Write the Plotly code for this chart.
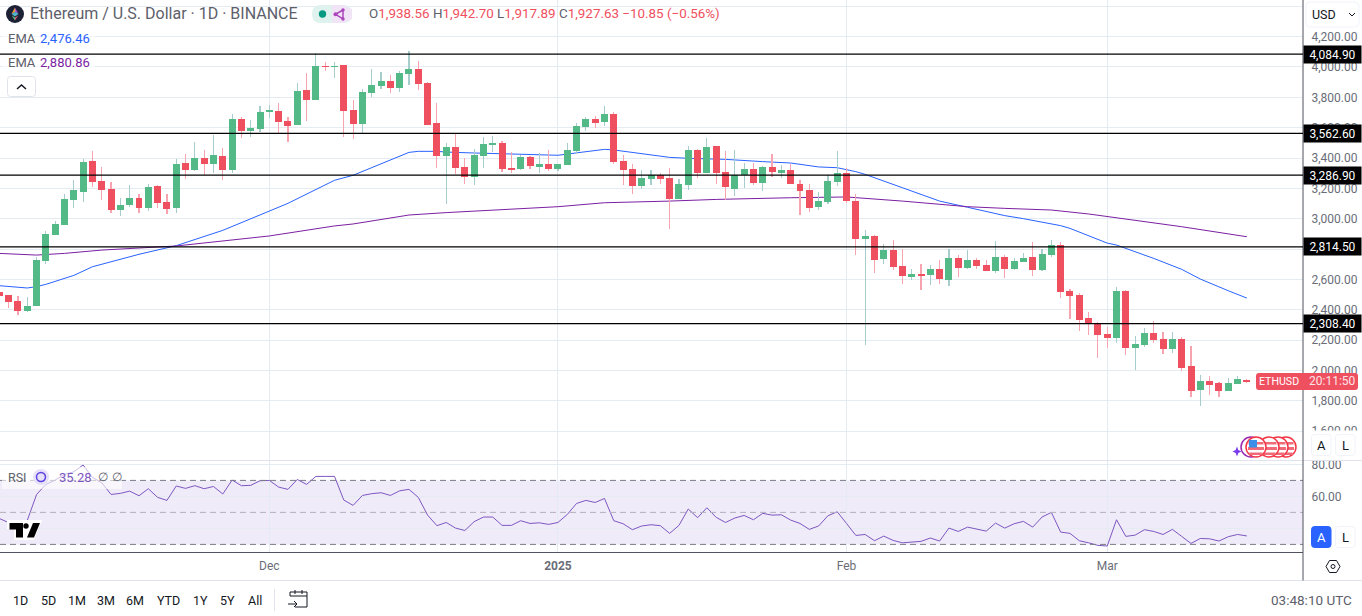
import pandas as pd
import plotly.graph_objects as go

W, H = 1362, 616
FONT = "Roboto, Arial, sans-serif"

# ---------------------------------------------------------------------------
# Data
# ---------------------------------------------------------------------------

dates = pd.date_range("2024-11-02", "2025-03-16").strftime("%Y-%m-%d").tolist()

opens = [
    2516, 2497, 2457, 2391, 2424, 2721, 2892, 2958, 3123, 3176, 3380, 3248, 3195, 3057, 3090, 3136, 3070, 3215, 3110, 3070, 3367, 3321, 3400, 3360, 3413, 3321, 3657, 3578, 3591,
    3705, 3710, 3644, 3617, 3848, 3782, 4004, 4000, 4013, 3716, 3624, 3829, 3875, 3908, 3861, 3954, 3987, 3894, 3631, 3413, 3472, 3341, 3275, 3413, 3492, 3499, 3334, 3327, 3406, 3347, 3360,
    3327, 3354, 3446, 3604, 3657, 3637, 3690, 3380, 3327, 3215, 3261, 3288, 3268, 3130, 3222, 3453, 3301, 3479, 3308, 3195, 3288, 3327, 3235, 3341, 3301, 3321, 3228, 3189, 3077, 3110, 3242,
    3301, 3116, 2866, 2885, 2734, 2793, 2688, 2615, 2635, 2628, 2668, 2595, 2740, 2675, 2727, 2694, 2655, 2747, 2668, 2714, 2747, 2661, 2760, 2826, 2523, 2496, 2345, 2312,
    2239, 2213, 2523, 2147, 2167, 2246, 2206, 2140, 2206, 2028, 1870, 1929, 1916, 1863, 1909, 1938.56,
]
highs = [
    2530, 2497, 2490, 2483, 2747, 2919, 2984, 3163, 3255, 3393, 3446, 3341, 3242, 3136, 3222, 3163, 3228, 3222, 3163, 3393, 3426, 3505, 3453, 3552, 3466, 3690, 3670, 3650, 3743,
    3749, 3763, 3670, 3894, 3960, 4092, 4033, 4033, 4013, 3782, 3855, 3987, 3967, 3947, 3974, 4105, 4040, 3901, 3763, 3499, 3558, 3400, 3459, 3538, 3545, 3512, 3439, 3420, 3413, 3433, 3453,
    3360, 3499, 3631, 3670, 3677, 3743, 3703, 3420, 3360, 3321, 3321, 3301, 3334, 3261, 3479, 3459, 3532, 3479, 3446, 3453, 3367, 3367, 3347, 3426, 3354, 3360, 3255, 3228, 3176, 3288, 3446,
    3334, 3162, 2925, 2892, 2833, 2859, 2800, 2668, 2701, 2694, 2727, 2800, 2760, 2793, 2740, 2727, 2852, 2760, 2740, 2773, 2846, 2800, 2859, 2846, 2536, 2510, 2384, 2318,
    2285, 2549, 2529, 2226, 2279, 2325, 2252, 2252, 2219, 2160, 1969, 1962, 1923, 1949, 1962, 1942.70,
]
lows = [
    2486, 2411, 2365, 2384, 2424, 2701, 2892, 2958, 3070, 3110, 3209, 3123, 3037, 3017, 3077, 3037, 3050, 3070, 3031, 3037, 3261, 3314, 3288, 3301, 3255, 3301, 3532, 3538, 3571,
    3664, 3565, 3505, 3617, 3644, 3782, 3973, 3927, 3538, 3525, 3565, 3802, 3855, 3829, 3835, 3881, 3848, 3617, 3334, 3097, 3294, 3228, 3222, 3334, 3439, 3308, 3301, 3321, 3327, 3301, 3314,
    3314, 3354, 3426, 3578, 3598, 3611, 3360, 3222, 3162, 3195, 3222, 3228, 2932, 3130, 3189, 3268, 3301, 3228, 3123, 3149, 3202, 3222, 3182, 3275, 3268, 3228, 3024, 3044, 3057, 3097, 3215,
    3103, 2760, 2167, 2642, 2701, 2661, 2569, 2595, 2529, 2562, 2569, 2556, 2615, 2668, 2668, 2655, 2642, 2609, 2661, 2714, 2622, 2655, 2747, 2477, 2338, 2259, 2233, 2081,
    2147, 2180, 2101, 2002, 2154, 2180, 2107, 2114, 1995, 1824, 1764, 1837, 1824, 1863, 1909, 1917.89,
]
closes = [
    2490, 2450, 2391, 2424, 2727, 2899, 2965, 3130, 3189, 3374, 3242, 3189, 3057, 3090, 3136, 3070, 3209, 3103, 3064, 3360, 3321, 3400, 3360, 3420, 3321, 3657, 3578, 3598, 3703,
    3710, 3637, 3611, 3842, 3782, 4006, 4000, 4004, 3710, 3624, 3835, 3881, 3908, 3861, 3960, 3987, 3888, 3617, 3413, 3472, 3334, 3275, 3420, 3492, 3499, 3327, 3327, 3406, 3347, 3360, 3327,
    3360, 3453, 3611, 3657, 3631, 3690, 3373, 3321, 3215, 3268, 3288, 3261, 3130, 3228, 3453, 3301, 3472, 3301, 3209, 3288, 3327, 3235, 3341, 3308, 3321, 3228, 3182, 3070, 3116, 3248, 3301,
    3116, 2866, 2885, 2727, 2793, 2681, 2622, 2635, 2628, 2668, 2602, 2740, 2675, 2727, 2688, 2655, 2747, 2668, 2721, 2740, 2661, 2767, 2826, 2516, 2490, 2332, 2312, 2233,
    2213, 2523, 2147, 2173, 2246, 2200, 2140, 2206, 2015, 1863, 1929, 1903, 1863, 1916, 1942, 1927.63,
]

rsi = [
    46.2, 43.5, 41.0, 45.0, 61.2, 67.5, 70.2, 73.7, 75.4, 79.6, 71.9, 68.5, 61.2, 61.9, 63.3, 60.4, 64.8, 59.4, 57.5, 66.5, 65.0, 66.7, 64.8, 66.2, 61.5, 70.2, 66.7, 66.9, 69.8,
    70.0, 65.8, 64.4, 70.6, 67.5, 72.5, 72.5, 72.5, 57.7, 54.4, 60.6, 61.7, 62.3, 60.6, 63.5, 64.4, 59.4, 48.3, 41.7, 43.7, 40.2, 38.7, 44.2, 47.1, 47.1, 41.9, 41.9, 44.8, 43.1, 43.5, 42.5,
    43.7, 48.7, 55.6, 57.5, 56.2, 58.7, 44.8, 42.9, 39.2, 41.5, 42.3, 41.7, 36.9, 41.9, 52.1, 46.7, 52.9, 46.9, 43.7, 46.5, 48.1, 45.4, 49.4, 48.3, 48.5, 45.2, 43.1, 39.4, 41.5, 47.9, 50.4,
    43.1, 35.6, 36.2, 32.3, 35.2, 32.5, 31.0, 31.5, 31.9, 34.0, 32.1, 40.2, 38.1, 40.8, 39.6, 38.3, 43.3, 40.2, 42.9, 44.4, 40.8, 47.1, 50.0, 37.7, 36.9, 32.3, 31.0, 29.4,
    29.0, 45.4, 35.0, 35.8, 39.2, 38.1, 36.2, 39.4, 35.0, 30.6, 33.7, 33.5, 32.1, 34.8, 36.2, 35.28,
]

ema_blue_dates = [
    "2024-11-02", "2024-11-05", "2024-11-06", "2024-11-07", "2024-11-10", "2024-11-12", "2024-11-17", "2024-11-21",
    "2024-11-26", "2024-12-01", "2024-12-03", "2024-12-08", "2024-12-10", "2024-12-16", "2024-12-17", "2024-12-19",
    "2024-12-20", "2024-12-23", "2024-12-27", "2025-01-01", "2025-01-02", "2025-01-06", "2025-01-07", "2025-01-13",
    "2025-01-15", "2025-01-19", "2025-01-23", "2025-01-26", "2025-01-29", "2025-01-31", "2025-02-02", "2025-02-03",
    "2025-02-07", "2025-02-11", "2025-02-14", "2025-02-18", "2025-02-20", "2025-02-22", "2025-02-23", "2025-02-24",
    "2025-02-25", "2025-02-27", "2025-03-01", "2025-03-02", "2025-03-04", "2025-03-06", "2025-03-09", "2025-03-11",
    "2025-03-14", "2025-03-16",
]
ema_blue = [
    2558, 2543, 2552, 2567, 2626, 2683, 2765, 2822,
    2923, 3053, 3101, 3253, 3286, 3437, 3444, 3444,
    3439, 3433, 3426, 3418, 3426, 3457, 3453, 3404,
    3398, 3391, 3376, 3367, 3341, 3336, 3310, 3292,
    3204, 3116, 3075, 3020, 3000, 2978, 2969, 2954,
    2936, 2890, 2839, 2826, 2782, 2738, 2666, 2602,
    2525, 2476.46,
]

ema_purple_dates = [
    "2024-11-02", "2024-11-06", "2024-11-09", "2024-11-13", "2024-11-21", "2024-12-01", "2024-12-08", "2024-12-10",
    "2024-12-16", "2024-12-20", "2025-01-01", "2025-01-06", "2025-01-13", "2025-01-18", "2025-01-26", "2025-01-31",
    "2025-02-01", "2025-02-07", "2025-02-14", "2025-02-18", "2025-02-23", "2025-02-27", "2025-03-01", "2025-03-09",
    "2025-03-16",
]
ema_purple = [
    2771, 2760, 2771, 2793, 2820, 2886, 2952, 2965,
    3024, 3040, 3079, 3105, 3116, 3127, 3138, 3141,
    3143, 3116, 3079, 3068, 3057, 3031, 3015, 2947,
    2880.86,
]

level_lines = [4084.90, 3562.60, 3286.90, 2814.50, 2308.40]

price_ticks = [1600, 1800, 2000, 2200, 2400, 2600, 2800, 3000, 3200, 3400, 3600, 3800, 4000, 4200, 4400]
rsi_ticks = [40, 60, 80]
rsi_tick_text = ["", "60.00", "80.00"]
month_ticks = ["2024-12-01", "2025-01-01", "2025-02-01", "2025-03-01"]
month_text = ["Dec", "<b>2025</b>", "Feb", "Mar"]
range_buttons = ["1D", "5D", "1M", "3M", "6M", "YTD", "1Y", "5Y", "All"]

# ---------------------------------------------------------------------------
# Colours
# ---------------------------------------------------------------------------

GREEN = "#53b987"
RED = "#ef5060"
GREEN_WICK = "#a6cccb"
RED_WICK = "#f8a3b0"
BLUE = "#2962ff"
PURPLE = "#7b1fa2"
RSI_PURPLE = "#7e57c2"
GRID = "#e4ecf2"
INK = "#131722"
SOFT = "#5d606b"
AXIS = "#6a6d78"
FRAME = "#50535e"
RULE = "#e0e3eb"

# ---------------------------------------------------------------------------
# Helpers for page furniture, all in page pixels
# ---------------------------------------------------------------------------

shapes = []
annotations = []


def fx(x):
    return x / W


def fy(y):
    return 1 - y / H


def box(x0, y0, x1, y1, fill="white", line=None, width=1, layer="above"):
    shapes.append(dict(type="rect", xref="paper", yref="paper", x0=fx(x0), x1=fx(x1), y0=fy(y0), y1=fy(y1),
                       fillcolor=fill, line=dict(color=line or "rgba(0,0,0,0)", width=width if line else 0), layer=layer))


def round_box(x0, y0, x1, y1, r=4, fill="white", line=None):
    p = (f"M{fx(x0 + r)},{fy(y0)} L{fx(x1 - r)},{fy(y0)} Q{fx(x1)},{fy(y0)} {fx(x1)},{fy(y0 + r)} "
         f"L{fx(x1)},{fy(y1 - r)} Q{fx(x1)},{fy(y1)} {fx(x1 - r)},{fy(y1)} L{fx(x0 + r)},{fy(y1)} "
         f"Q{fx(x0)},{fy(y1)} {fx(x0)},{fy(y1 - r)} L{fx(x0)},{fy(y0 + r)} Q{fx(x0)},{fy(y0)} {fx(x0 + r)},{fy(y0)} Z")
    shapes.append(dict(type="path", xref="paper", yref="paper", path=p, fillcolor=fill,
                       line=dict(color=line or "rgba(0,0,0,0)", width=1 if line else 0), layer="above"))


def poly(points, fill=None, line=None, width=1, close=True):
    p = "M" + " L".join(f"{fx(x)},{fy(y)}" for x, y in points) + (" Z" if close else "")
    shapes.append(dict(type="path", xref="paper", yref="paper", path=p, fillcolor=fill or "rgba(0,0,0,0)",
                       line=dict(color=line or "rgba(0,0,0,0)", width=width if line else 0), layer="above"))


def circle(cx, cy, r, fill="white", line=None, width=1):
    shapes.append(dict(type="circle", xref="paper", yref="paper", x0=fx(cx - r), x1=fx(cx + r), y0=fy(cy + r), y1=fy(cy - r),
                       fillcolor=fill, line=dict(color=line or "rgba(0,0,0,0)", width=width if line else 0), layer="above"))


def label(x, y, text, size=13, color=INK, anchor="left", **kw):
    annotations.append(dict(x=fx(x), y=fy(y), xref="paper", yref="paper", text=text, showarrow=False, xanchor=anchor,
                            yanchor="middle", borderpad=0, font=dict(size=size, color=color, family=FONT), **kw))


# ---------------------------------------------------------------------------
# Figure
# ---------------------------------------------------------------------------

fig = go.Figure()

fig.add_trace(go.Scatter(x=ema_blue_dates, y=ema_blue, mode="lines", line=dict(color=BLUE, width=1), xaxis="x", yaxis="y"))
fig.add_trace(go.Scatter(x=ema_purple_dates, y=ema_purple, mode="lines", line=dict(color=PURPLE, width=1), xaxis="x", yaxis="y"))

# candles sit on an overlaid copy of the price axis so the EMAs stay behind them
up = [c >= o for o, c in zip(opens, closes)]
fig.add_trace(go.Bar(x=dates, base=lows, y=[h - l for h, l in zip(highs, lows)], width=1700000,
                     marker=dict(color=[GREEN_WICK if u else RED_WICK for u in up], line=dict(width=0)),
                     xaxis="x", yaxis="y3"))
fig.add_trace(go.Bar(x=dates, base=[min(o, c) for o, c in zip(opens, closes)], y=[abs(c - o) for o, c in zip(opens, closes)],
                     width=64800000, marker=dict(color=[GREEN if u else RED for u in up], line=dict(width=0)),
                     xaxis="x", yaxis="y3"))

fig.add_trace(go.Scatter(x=dates, y=rsi, mode="lines", line=dict(color=RSI_PURPLE, width=1), xaxis="x2", yaxis="y2"))

# RSI band and its dashed levels
shapes.append(dict(type="rect", xref="x2 domain", yref="y2", x0=0, x1=1, y0=30, y1=70, fillcolor="rgba(126,87,194,0.12)",
                   line=dict(width=0), layer="below"))
for level, colour in [(70, "#787b86"), (50, "#b3b0bd"), (30, "#787b86")]:
    shapes.append(dict(type="line", xref="x2 domain", yref="y2", x0=0, x1=1, y0=level, y1=level,
                       line=dict(color=colour, width=1, dash="6px,4px"), layer="above"))

# right hand column furniture goes over the tick labels
box(1304, 430.5, W, 460)
box(1304, 525, W, 549)
box(0, 460, W, 461, fill=RULE)
box(0, 580, W, 581, fill=RULE)
box(0, 552, 1303, 553, fill=FRAME)
box(1302.5, 0, 1303.5, 580.5, fill=FRAME)

# horizontal levels
for level in level_lines:
    shapes.append(dict(type="line", xref="x domain", yref="y", x0=0, x1=1, y0=level, y1=level,
                       line=dict(color="#000000", width=1.2), layer="above"))
    annotations.append(dict(x=fx(1303), y=level, xref="paper", yref="y", text=f"{level:,.2f}", showarrow=False, xanchor="left",
                            yanchor="middle", width=55, height=15, align="center", bgcolor="#000000", borderpad=1,
                            font=dict(size=12, color="white", family=FONT)))

# last price label
round_box(1256, 373, 1358, 390, r=3, fill=RED)
label(1278.5, 381.5, "ETHUSD", size=10.6, color="white", anchor="center")
annotations.append(dict(x=fx(1332.5), y=closes[-1], xref="paper", yref="y", text="20:11:50", showarrow=False, xanchor="center",
                        yanchor="middle", font=dict(size=12, color="#fde3e7", family=FONT)))

# header
circle(15, 14, 9, fill="#1d2136")
poly([(15, 7.5), (11.5, 14), (15, 12)], fill="#f0a13b")
poly([(15, 7.5), (18.5, 14), (15, 12)], fill="#a45ac9")
poly([(11.5, 14), (15, 12), (18.5, 14), (15, 16.5)], fill="#4fb7c9")
poly([(11.7, 15.5), (15, 20.5), (15, 17.5)], fill="#59c27e")
poly([(18.3, 15.5), (15, 20.5), (15, 17.5)], fill="#e0566b")
label(29, 14, "Ethereum / U.S. Dollar · 1D · BINANCE", size=16, color=SOFT)

round_box(312, 5, 352, 23, r=9, fill="#dff2ee")
poly([(332, 5), (343, 5), (352, 9), (352, 19), (343, 23), (332, 23)], fill="#f1e4f6")
circle(322.5, 14, 3.7, fill="#089981")
poly([(343, 10), (335.5, 14.3), (343, 19)], fill="rgba(0,0,0,0)", line="#ab47bc", width=1.5)
circle(343, 10, 1.7, fill="#ab47bc")
circle(343, 19, 1.7, fill="#ab47bc")
circle(335.5, 14.3, 2, fill="#ab47bc")

ohlc_text = (
    f'<span style="color:{SOFT}">O</span>1,938.56 '
    f'<span style="color:{SOFT}">H</span>1,942.70 '
    f'<span style="color:{SOFT}">L</span>1,917.89 '
    f'<span style="color:{SOFT}">C</span>1,927.63 −10.85 (−0.56%)'
)
label(368, 14, ohlc_text, size=13.4, color=RED)

box(2, 30, 95, 48, fill="rgba(255,255,255,0.6)")
label(7, 38.5, "EMA", size=13, color=SOFT)
label(39, 38.5, "2,476.46", size=13, color=BLUE)
box(2, 55, 95, 72, fill="rgba(255,255,255,0.6)")
label(7, 62.5, "EMA", size=13, color=SOFT)
label(39, 62.5, "2,880.86", size=13, color=PURPLE)
round_box(7.5, 76.5, 35.5, 96.5, r=3, fill="white", line=RULE)
poly([(17, 89), (21.5, 85), (26, 89)], line=INK, width=1.5, close=False)

# RSI legend
box(2, 467, 122, 489, fill="rgba(255,255,255,0.6)")
label(7, 477.5, "RSI", size=12.5, color=SOFT)
circle(41, 477, 8, fill="#e8e0f8")
circle(41, 477, 4.5, fill="rgba(0,0,0,0)", line="#5b42e0", width=1.5)
label(58, 477, "35.28", size=13, color=RSI_PURPLE)
label(97, 477, "∅", size=12, color=SOFT)
label(111, 477, "∅", size=12, color=SOFT)

# TradingView mark
poly([(7, 520), (42, 520), (34, 540), (23, 540), (23, 540), (14, 540), (14, 529), (7, 529)], fill="white")
poly([(9.5, 523), (23, 523), (23, 537.5), (16, 537.5), (16, 529.5), (9.5, 529.5)], fill="#000000")
circle(26, 526, 2.7, fill="#000000")
poly([(33, 523), (40, 523), (34, 537.5), (27, 537.5)], fill="#000000")

# USD button and the side buttons
round_box(1306, 2, 1359, 27, r=4, fill="white", line="#f0f3fa")
label(1311, 14.5, "USD", size=12.5, color=INK)
poly([(1349, 13), (1352, 16), (1355, 13)], line=INK, width=1, close=False)
for y0, y1, active in [(434.5, 455.5, False), (526.5, 547.5, True)]:
    round_box(1311.5, y0, 1331, y1, r=3, fill=BLUE if active else "white", line=BLUE if active else "#f0f3fa")
    round_box(1335.5, y0, 1355, y1, r=3, fill="white", line="#f0f3fa")
    label(1321, (y0 + y1) / 2, "A", size=13, color="white" if active else INK, anchor="center")
    label(1345, (y0 + y1) / 2, "L", size=13, color=INK, anchor="center")

# settings cog
poly([(1326, 566.5), (1329.5, 560.5), (1336.5, 560.5), (1340, 566.5), (1336.5, 572.5), (1329.5, 572.5)], line=INK, width=1)
circle(1333, 566.5, 2, fill="white", line=INK)

# event markers
poly([(1237, 446.5), (1238.3, 450), (1241.5, 451.5), (1238.3, 453), (1237, 456.5), (1235.7, 453), (1232.5, 451.5), (1235.7, 450)], fill="#7c3aed")
circle(1251, 447, 10, fill="white", line="#9c27b0", width=1.5)
for cx in (1286, 1278, 1269, 1256):
    circle(cx, 447, 10, fill="white", line="#f23645", width=1.5)
    box(cx - 7.5, 442, cx + 7.5, 444.5, fill="#f06a77")
    box(cx - 8, 447, cx + 8, 450, fill="#f06a77")
    box(cx - 6.5, 452.5, cx + 6.5, 455, fill="#f06a77")
box(1249, 440, 1257, 447.5, fill="#3b8fe8")

# footer
for text, x in zip(range_buttons, [20, 48, 77, 106, 135, 168, 200, 227, 255]):
    label(x, 600, text, size=12.5, color=INK, anchor="center")
box(274, 589, 275, 611, fill=RULE)
poly([(290, 596), (290, 592), (307, 592), (307, 607), (295, 607)], line=INK, width=1, close=False)
poly([(290, 596), (307, 596)], line=INK, width=1, close=False)
poly([(295, 590), (295, 594)], line=INK, width=1, close=False)
poly([(302, 590), (302, 594)], line=INK, width=1, close=False)
poly([(288, 604), (297, 604)], line=INK, width=1, close=False)
poly([(294, 601), (297, 604), (294, 607)], line=INK, width=1, close=False)
label(1353, 600, "03:48:10 UTC", size=13.5, color=SOFT, anchor="right")

tick_font = dict(size=12, color=AXIS, family=FONT)
x_range = ["2024-11-02 01:40", "2025-03-22 00:43"]
price_range = [1405.6, 4441.7]

fig.update_layout(
    width=W,
    height=H,
    margin=dict(l=0, r=0, t=0, b=0, autoexpand=False),
    paper_bgcolor="white",
    plot_bgcolor="white",
    showlegend=False,
    barmode="overlay",
    bargap=0,
    hovermode=False,
    font=dict(family=FONT),
    shapes=shapes,
    annotations=annotations,
    xaxis=dict(
        domain=[0, 1303 / W], range=x_range, type="date", anchor="y", tickmode="array", tickvals=month_ticks,
        showticklabels=False, showgrid=True, gridcolor=GRID, gridwidth=1, zeroline=False, ticks="",
    ),
    xaxis2=dict(
        domain=[0, 1303 / W], range=x_range, type="date", anchor="y2", tickmode="array", tickvals=month_ticks,
        ticktext=month_text, showgrid=True, gridcolor=GRID, gridwidth=1, zeroline=False, ticks="outside", ticklen=3,
        tickcolor="rgba(0,0,0,0)", tickfont=tick_font,
    ),
    yaxis=dict(
        domain=[1 - 460.5 / H, 1], range=price_range, side="right", anchor="x", tickmode="array", tickvals=price_ticks,
        tickformat=",.2f", showgrid=True, gridcolor=GRID, gridwidth=1, zeroline=False, ticks="outside", ticklen=5,
        tickcolor="rgba(0,0,0,0)", tickfont=tick_font,
    ),
    yaxis3=dict(overlaying="y", anchor="x", matches="y", range=price_range, visible=False, side="right"),
    yaxis2=dict(
        domain=[1 - 552 / H, 1 - 460.5 / H], range=[25.25, 82.44], side="right", anchor="x2", tickmode="array",
        tickvals=rsi_ticks, ticktext=rsi_tick_text, showgrid=True, gridcolor=GRID, gridwidth=1, zeroline=False,
        ticks="outside", ticklen=5, tickcolor="rgba(0,0,0,0)", tickfont=tick_font,
    ),
)

fig.write_html("out.html", config=dict(displayModeBar=False),
               post_script="document.body.style.margin='0';document.body.style.overflow='hidden';")
